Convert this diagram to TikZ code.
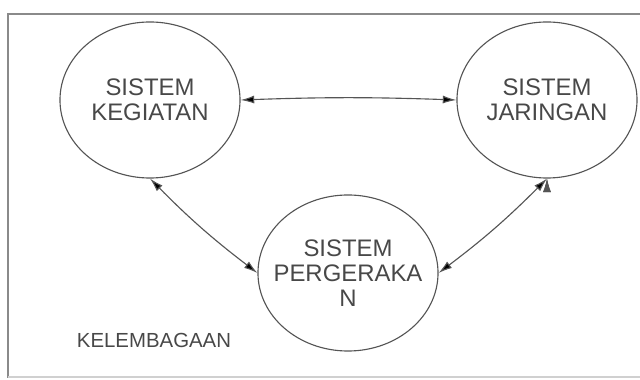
\documentclass[tikz,border=0pt]{standalone}
\usepackage{fontspec}
\setmainfont{Liberation Sans}
\usetikzlibrary{arrows.meta,shapes.geometric}
\definecolor{linegray}{HTML}{555555}
\definecolor{textgray}{HTML}{484848}
\definecolor{framegray}{HTML}{8A8A8A}

\begin{document}
\begin{tikzpicture}[x=0.025cm,y=-0.025cm,<->,>={Latex[length=3.4mm,width=2mm]},
  line width=0.8pt,
  sys node/.style={ellipse,draw=linegray,text=textgray,align=center,inner sep=-1cm,
    font=\fontsize{17}{18}\selectfont,minimum width=4.5cm,minimum height=3.9cm}]
  \useasboundingbox (0,0) rectangle (640,380);

  % frame
  \draw[-,framegray,line width=1pt] (8,378) -- (8,14) -- (640,14);
  \draw[-,framegray!40,line width=0.8pt] (8,377) -- (640,377);

  \node[sys node] (kegiatan) at (150,100) {SISTEM\\KEGIATAN};
  \node[sys node] (jaringan) at (547,100) {SISTEM\\JARINGAN};
  \node[sys node] (gerak) at (348,273) {SISTEM\\PERGERAKA\\N};

  \node[text=textgray,font=\fontsize{14.5}{16}\selectfont] (lembaga) at (154,340) {KELEMBAGAAN};

  \path[draw=linegray]
    (kegiatan.east) edge[bend left=2] (jaringan.west)
    (kegiatan.south) edge[bend right=4] (gerak.west)
    (jaringan.south) edge[bend left=4] (gerak.east);
\end{tikzpicture}
\end{document}
